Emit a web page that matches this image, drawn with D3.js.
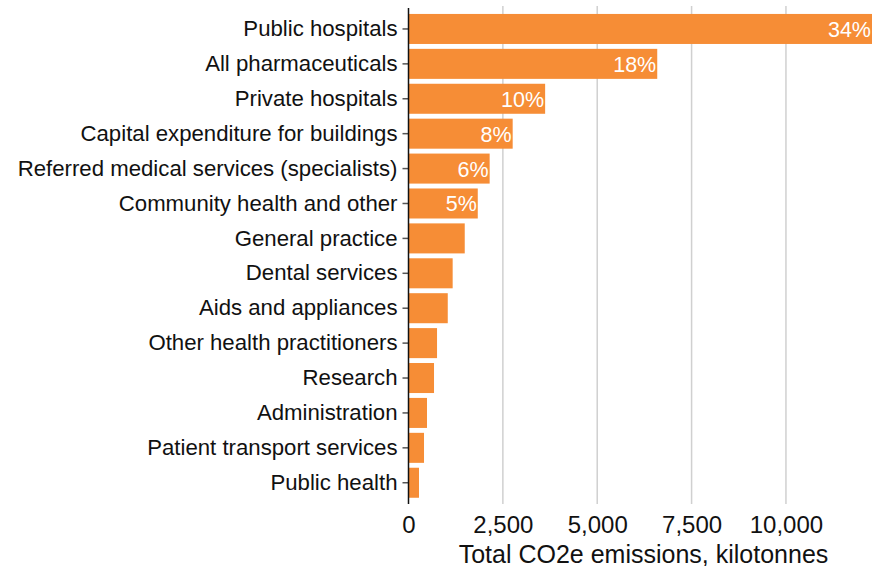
<!DOCTYPE html>
<html><head><meta charset="utf-8">
<script src="https://cdn.jsdelivr.net/npm/d3@7"></script>
<style>body{margin:0;background:#fff}svg{display:block}text{font-family:"Liberation Sans",Arial,sans-serif}</style>
</head><body><svg id="c" width="872" height="566"></svg>
<script>
const categories = ["Public hospitals","All pharmaceuticals","Private hospitals","Capital expenditure for buildings","Referred medical services (specialists)","Community health and other","General practice","Dental services","Aids and appliances","Other health practitioners","Research","Administration","Patient transport services","Public health"];
const values = [12280,6590,3620,2760,2150,1835,1490,1170,1040,756,676,490,411,278];
const shareLabels = ["34%","18%","10%","8%","6%","5%","","","","","","","",""];
const xTicks = [0,2500,5000,7500,10000];
const xTitle = "Total CO2e emissions, kilotonnes";

const svg = d3.select("#c");
const x0 = 408.5, x1 = 872;
const x = d3.scaleLinear().domain([0, d3.max(values)]).range([x0, x1]);
const y = d3.scaleBand().domain(categories).range([11.5, 500.2]).paddingInner(0.14).paddingOuter(0.07);

// gridlines
svg.append("g").selectAll("line").data(xTicks.slice(1)).join("line")
  .attr("x1", d => x(d)).attr("x2", d => x(d)).attr("y1", 6).attr("y2", 504)
  .attr("stroke", "#d0d0d0").attr("stroke-width", 1.5);

// bars
svg.append("g").selectAll("rect").data(categories).join("rect")
  .attr("x", x(0)).attr("y", d => y(d))
  .attr("width", (d,i) => x(values[i]) - x(0)).attr("height", y.bandwidth())
  .attr("fill", "#f68d36");

// share labels
svg.append("g").selectAll("text").data(categories).join("text")
  .attr("x", (d,i) => x(values[i]) - 1).attr("y", d => y(d) + y.bandwidth()/2)
  .attr("dy", "0.37em").attr("text-anchor", "end")
  .attr("fill", "#fff").attr("font-size", 21.5)
  .text((d,i) => shareLabels[i]);

// y axis
const yAxis = svg.append("g").attr("transform", `translate(${x0},0)`)
  .call(d3.axisLeft(y).tickSize(6).tickPadding(5));
yAxis.select(".domain").remove();
yAxis.selectAll(".tick line").attr("stroke", "#555").attr("stroke-width", 1.5);
yAxis.selectAll(".tick text").attr("font-size", 22.2).attr("fill", "#111").attr("font-family", "Liberation Sans, Arial, sans-serif");
svg.append("line").attr("x1", x0).attr("x2", x0).attr("y1", 8).attr("y2", 504)
  .attr("stroke", "#111").attr("stroke-width", 1.5);

// x axis
const xAxis = svg.append("g").attr("transform", `translate(0,504)`)
  .call(d3.axisBottom(x).tickValues(xTicks).tickSize(0).tickPadding(12).tickFormat(d3.format(",")));
xAxis.select(".domain").remove();
xAxis.selectAll(".tick text").attr("font-size", 24).attr("fill", "#111").attr("font-family", "Liberation Sans, Arial, sans-serif");

svg.append("text").attr("x", 643.5).attr("y", 562.5).attr("text-anchor", "middle")
  .attr("font-size", 25).attr("fill", "#111").text(xTitle);
</script></body></html>
